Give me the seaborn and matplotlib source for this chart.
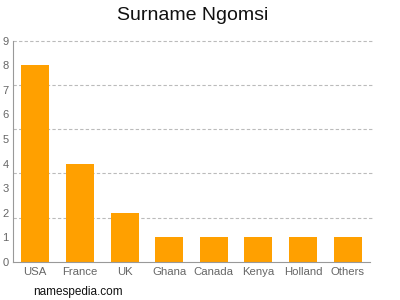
import matplotlib
matplotlib.use("Agg")
import matplotlib.pyplot as plt
import seaborn as sns
import pandas as pd

countries = ["USA", "France", "UK", "Ghana", "Canada", "Kenya", "Holland", "Others"]
counts = [8, 4, 2, 1, 1, 1, 1, 1]
yticks = list(range(0, 10))
grid_levels = [1.8, 3.6, 5.4, 7.2, 9.0]

sns.set_style("white")
plt.rcParams['font.family'] = ['Liberation Sans', 'DejaVu Sans']

fig = plt.figure(figsize=(4, 3), dpi=100)
ax = fig.add_axes([0.0325, 0.127, 0.8925, 0.737])
df = pd.DataFrame({"country": countries, "count": counts})
sns.barplot(data=df, x="country", y="count", color="#FFA000", saturation=1,
            width=0.63, ax=ax, edgecolor="none", zorder=2)

ax.set_ylim(0, 9)
ax.set_xlim(-0.5, len(countries) - 0.5)
ax.set_yticks(yticks)
ax.set_yticklabels([str(t) for t in yticks], fontsize=8, color="#666666")
ax.tick_params(axis='y', length=2, width=0.6, color="#999999", pad=1, direction="out")
ax.tick_params(axis='x', length=2.5, width=0.6, color="#999999", pad=1.5, labelsize=8.2, labelcolor="#666666", direction="out")
for v in grid_levels:
    ax.axhline(v, color="#BBBBBB", linestyle=(0, (3, 2)), linewidth=0.8, zorder=0, xmax=1.005, clip_on=False)
ax.set_xlabel("")
ax.set_ylabel("")
for s in ["top", "right"]:
    ax.spines[s].set_visible(False)
for s in ["left", "bottom"]:
    ax.spines[s].set_color("#999999")
    ax.spines[s].set_linewidth(0.8)

fig.text(0.4825, 0.948, "Surname Ngomsi", ha="center", va="center", fontsize=14, color="#111111")
fig.text(0.083, 0.027, "namespedia.com", ha="left", va="center", fontsize=8.5, color="#111111")

fig.savefig("out.png", dpi=100)
